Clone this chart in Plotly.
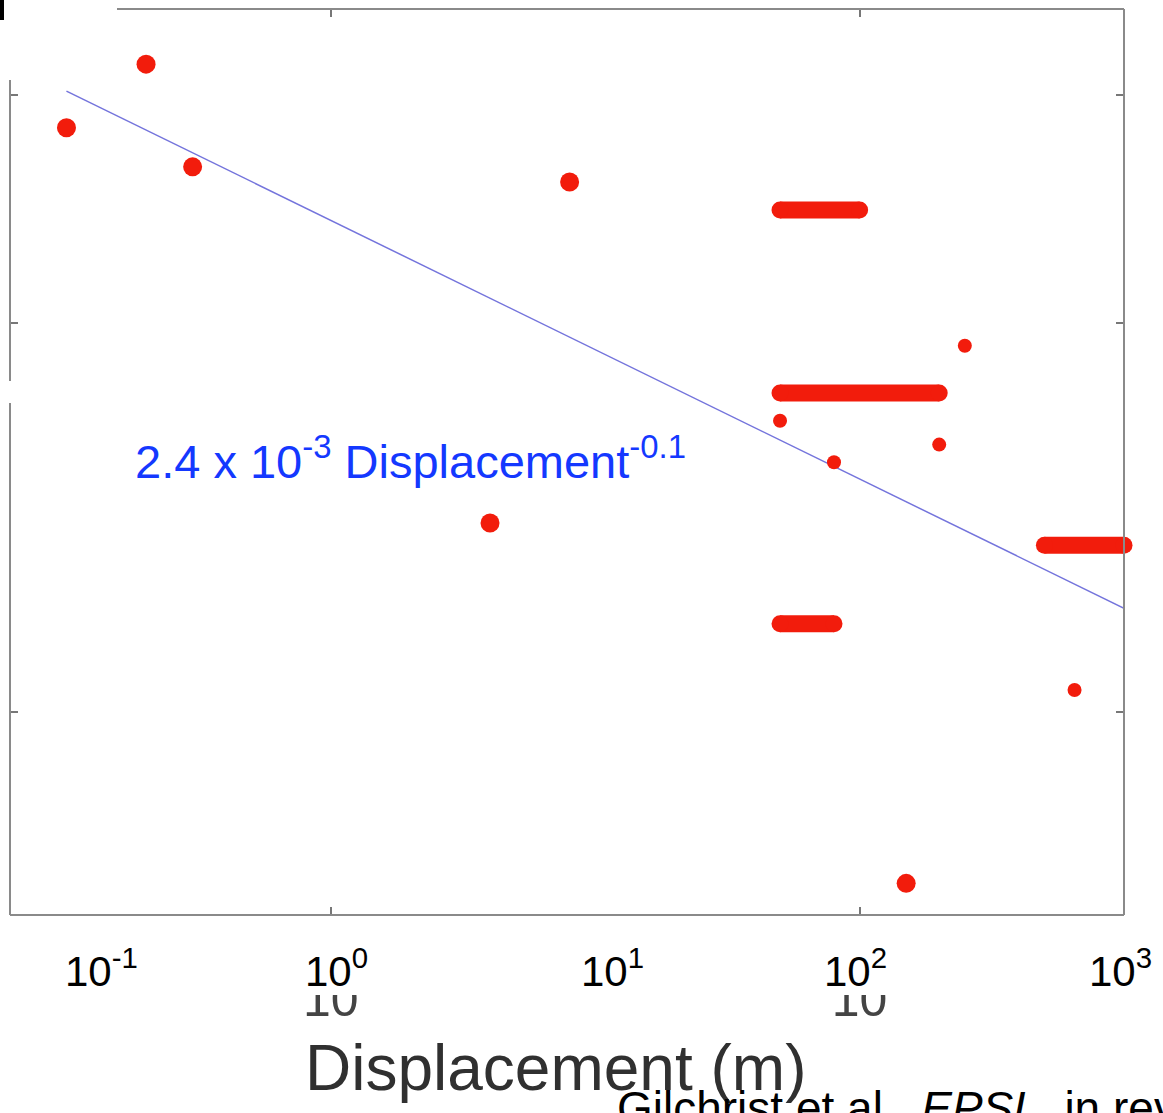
import plotly.graph_objects as go

# Individual displacement measurements (m) and their values
big_disp = [0.1, 0.2, 0.3, 4.0, 8.0, 150]
big_val = [2.83e-3, 3.17e-3, 2.64e-3, 1.40e-3, 2.57e-3, 7.37e-4]
small_disp = [50, 80, 200, 250, 650]
small_val = [1.68e-3, 1.56e-3, 1.61e-3, 1.92e-3, 1.04e-3]

# Measurements that only constrain displacement to a range (m)
range_lo = [50, 50, 50, 500]
range_hi = [100, 200, 80, 1000]
range_val = [2.445e-3, 1.765e-3, 1.17e-3, 1.346e-3]

# Power-law fit: value = fit_coef * Displacement ** fit_exp
fit_coef = 2.4e-3
fit_exp = -0.1
fit_disp = [0.1, 1000]

# Decade labels along the displacement axis
decade_exp = [-1, 0, 1, 2, 3]
decade_text = ["10<sup>-1</sup>", "10<sup>0</sup>", "10<sup>1</sup>",
               "10<sup>2</sup>", "10<sup>3</sup>"]

W, H = 1163, 1113
ML, MR, MT, MB = 10, 39, 9, 198
PW, PH = W - ML - MR, H - MT - MB

RED = "#f21c0c"
FRAME = "#8a8a8a"
FONT = "Liberation Sans, Arial, sans-serif"


def px(x):
    return (x - ML) / PW


def py(y):
    return (H - MB - y) / PH


fig = go.Figure()

fig.add_trace(go.Scatter(
    x=fit_disp, y=[fit_coef * d ** fit_exp for d in fit_disp],
    mode="lines", line=dict(color="#7474dc", width=1.5), hoverinfo="skip"))

for lo, hi, v in zip(range_lo, range_hi, range_val):
    fig.add_trace(go.Scatter(
        x=[lo, hi], y=[v, v], mode="lines+markers",
        line=dict(color=RED, width=17),
        marker=dict(color=RED, size=17),
        cliponaxis=False))

fig.add_trace(go.Scatter(x=small_disp, y=small_val, mode="markers",
                         marker=dict(color=RED, size=14), cliponaxis=False))
fig.add_trace(go.Scatter(x=big_disp, y=big_val, mode="markers",
                         marker=dict(color=RED, size=19), cliponaxis=False))

frame = dict(type="line", xref="paper", yref="paper", layer="above",
             line=dict(color=FRAME, width=2))
shapes = [
    dict(frame, x0=px(117), x1=px(1124), y0=py(9), y1=py(9)),
    dict(frame, x0=px(1124), x1=px(1124), y0=py(9), y1=py(915)),
    dict(frame, x0=px(10), x1=px(1124), y0=py(915), y1=py(915)),
    dict(frame, x0=px(10), x1=px(10), y0=py(80), y1=py(381)),
    dict(frame, x0=px(10), x1=px(10), y0=py(403), y1=py(915)),
    # white panels behind the decade labels
    dict(type="rect", xref="paper", yref="paper", layer="above",
         x0=px(262), x1=px(410), y0=py(928), y1=py(995),
         fillcolor="white", line=dict(width=0)),
    dict(type="rect", xref="paper", yref="paper", layer="above",
         x0=px(790), x1=px(930), y0=py(928), y1=py(995),
         fillcolor="white", line=dict(width=0)),
    dict(type="rect", xref="paper", yref="paper", layer="above",
         x0=px(0), x1=px(4), y0=py(0), y1=py(20),
         fillcolor="black", line=dict(width=0)),
]

label_shift = [-3, -28, -16, -38, -37]
annotations = []
for e, t, s in zip(decade_exp, decade_text, label_shift):
    annotations.append(dict(
        x=e, xref="x", y=py(968), yref="paper", text=t, showarrow=False,
        xanchor="left", yanchor="middle", xshift=s,
        font=dict(family=FONT, size=42, color="black")))

annotations += [
    dict(x=px(133), y=py(458), xref="paper", yref="paper",
         text="2.4 x 10<sup>-3</sup> Displacement<sup>-0.1</sup>",
         showarrow=False, xanchor="left", yanchor="middle",
         font=dict(family=FONT, size=47, color="#1438ff")),
    dict(x=px(555), y=py(1068), xref="paper", yref="paper",
         text="Displacement (m)", showarrow=False,
         xanchor="center", yanchor="middle",
         font=dict(family=FONT, size=64, color="#303030")),
    dict(x=px(615), y=py(1080), xref="paper", yref="paper",
         text="Gilchrist et al., <i>EPSL</i>, in review",
         showarrow=False, xanchor="left", yanchor="top",
         font=dict(family=FONT, size=46, color="black")),
]

fig.update_layout(
    width=W, height=H,
    margin=dict(l=ML, r=MR, t=MT, b=MB, autoexpand=False),
    paper_bgcolor="white", plot_bgcolor="white",
    showlegend=False,
    shapes=shapes, annotations=annotations,
    xaxis=dict(type="log", range=[-1.2136, 3.0], showline=False,
               showgrid=False, zeroline=False,
               ticks="inside", ticklen=8, tickwidth=1.5, tickcolor="#777",
               mirror="ticks", tickvals=[1, 100], ticktext=["10", "10"],
               tickfont=dict(family=FONT, size=50, color="#444444"),
               ticklabelstandoff=50),
    yaxis=dict(type="log", range=[-3.157, -2.4563], showline=False,
               showgrid=False, zeroline=False,
               ticks="inside", ticklen=8, tickwidth=1.5, tickcolor="#777",
               mirror="ticks", tickvals=[1e-3, 2e-3, 3e-3],
               showticklabels=False),
)

fig.write_html("out.html")
